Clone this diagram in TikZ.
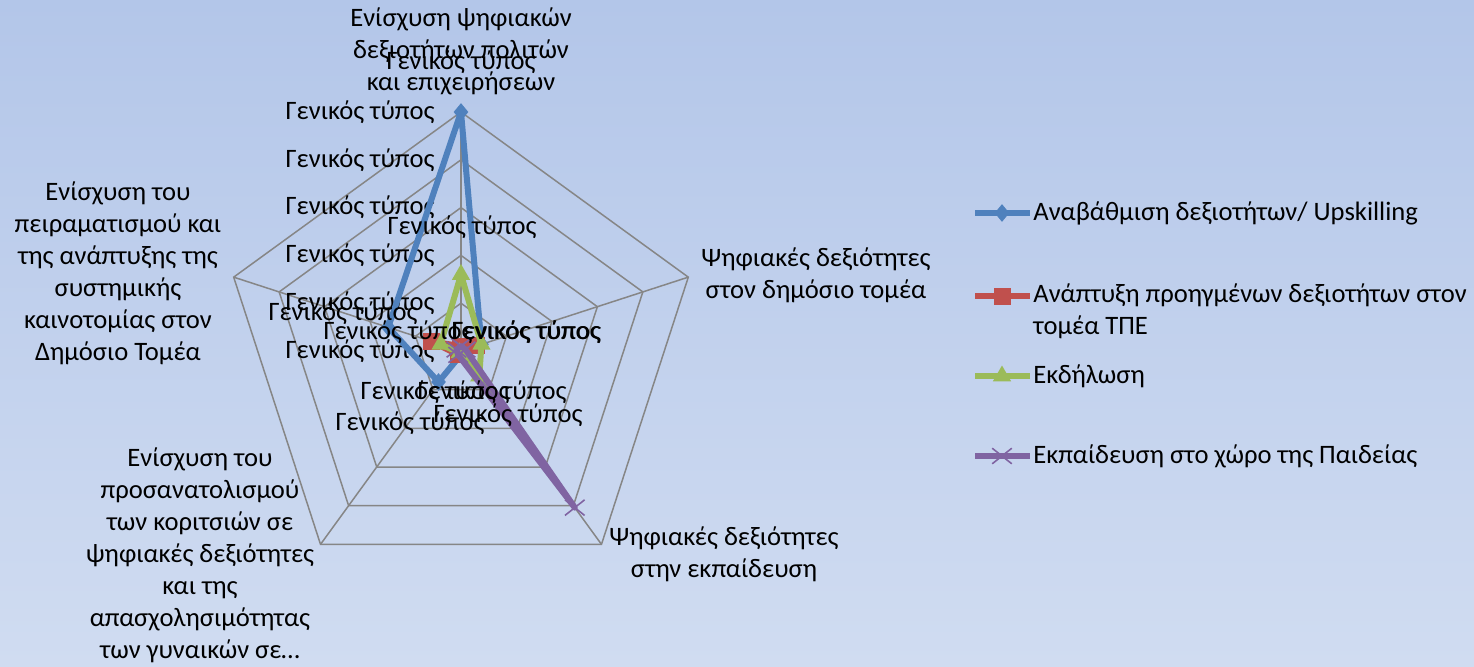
\documentclass[tikz,border=0pt]{standalone}
\usepackage{fontspec}
\setmainfont{Carlito}
\usetikzlibrary{shapes.geometric,shapes.misc}
\definecolor{bgtop}{RGB}{179,198,233}
\definecolor{bgbot}{RGB}{208,220,241}
\definecolor{gridgray}{RGB}{134,134,134}
\definecolor{serblue}{RGB}{79,129,189}
\definecolor{serred}{RGB}{192,80,77}
\definecolor{sergreen}{RGB}{155,187,89}
\definecolor{serpurple}{RGB}{128,100,162}
\tikzset{
  lbl/.style={font=\fontsize{13.3}{16}\selectfont, inner sep=0pt, align=center},
  gridline/.style={draw=gridgray, line width=0.75pt},
  ser/.style={line width=3pt, line join=round},
  mkdiam/.style={diamond, fill=serblue, inner sep=0pt, minimum width=7.5pt, minimum height=9pt},
  mksq/.style={rectangle, fill=serred, inner sep=0pt, minimum size=8.5pt},
  mktri/.style={regular polygon, regular polygon sides=3, fill=sergreen, inner sep=0pt, minimum size=10.5pt},
  mkx/.style={cross out, draw=serpurple, line width=0.8pt, inner sep=0pt, minimum width=9pt, minimum height=7pt},
}
\begin{document}
\begin{tikzpicture}[x=0.5pt,y=0.5pt]
  \useasboundingbox (-461,-315) rectangle (1013,351);
  \shade[top color=bgtop, bottom color=bgbot] (-461,-315) rectangle (1013,351);

  % web
  \coordinate (c) at (0,0);
  \foreach \k in {0,...,4} \coordinate (ax\k) at (90-72*\k:239);
  \foreach \r in {47.8,95.6,143.4,191.2,239}
    \draw[gridline] (90:\r) -- (18:\r) -- (-54:\r) -- (-126:\r) -- (-198:\r) -- cycle;
  \foreach \k in {0,...,4} \draw[gridline] (c) -- (ax\k);

  \foreach \k in {0,...,5}
    \node[lbl, anchor=east] (tick\k) at (-26,47.8*\k) {Γενικός τύπος};

  \node[lbl] (cat0) at (0,300) {Ενίσχυση ψηφιακών\\δεξιοτήτων πολιτών\\και επιχειρήσεων};
  \node[lbl] (cat1) at (355,76) {Ψηφιακές δεξιότητες\\στον δημόσιο τομέα};
  \node[lbl] (cat2) at (263,-203) {Ψηφιακές δεξιότητες\\στην εκπαίδευση};
  \node[lbl] (cat3) at (-261,-204) {Ενίσχυση του\\προσανατολισμού\\των κοριτσιών σε\\ψηφιακές δεξιότητες\\και της\\απασχολησιμότητας\\των γυναικών σε…};
  \node[lbl] (cat4) at (-343,78) {Ενίσχυση του\\πειραματισμού και\\της ανάπτυξης της\\συστημικής\\καινοτομίας στον\\Δημόσιο Τομέα};

  % series
  \foreach \v [count=\i from 0] in {5,.45,.05,.8,1.6} \coordinate (b\i) at (90-72*\i:47.8*\v);
  \foreach \v [count=\i from 0] in {.1,.35,.1,.1,.65} \coordinate (r\i) at (90-72*\i:47.8*\v);
  \foreach \v [count=\i from 0] in {1.6,.45,.65,.05,.45} \coordinate (g\i) at (90-72*\i:47.8*\v);
  \foreach \v [count=\i from 0] in {.1,.1,4.05,.1,.1} \coordinate (p\i) at (90-72*\i:47.8*\v);

  \draw[ser, serblue] (b0) -- (b1) -- (b2) -- (b3) -- (b4) -- cycle;
  \foreach \i in {0,...,4} \node[mkdiam] (bm\i) at (b\i) {};
  \draw[ser, serred] (r0) -- (r1) -- (r2) -- (r3) -- (r4) -- cycle;
  \foreach \i in {0,...,4} \node[mksq] (rm\i) at (r\i) {};
  \draw[ser, sergreen] (g0) -- (g1) -- (g2) -- (g3) -- (g4) -- cycle;
  \foreach \i in {0,...,4} \node[mktri] (gm\i) at (g\i) {};
  \draw[ser, serpurple] (p0) -- (p1) -- (p2) -- (p3) -- (p4) -- cycle;
  \foreach \i in {0,...,4} \node[mkx] (pm\i) at (p\i) {};

  % data labels
  \node[lbl] (dl0) at (0,289) {Γενικός τύπος};
  \node[lbl] (dl1) at (1,124) {Γενικός τύπος};
  \node[lbl] (dl2) at (-118,38) {Γενικός τύπος};
  \node[lbl] (dl3) at (-63,19) {Γενικός τύπος};
  \node[lbl] (dl4) at (65,19) {Γενικός τύπος};
  \node[lbl] (dl5) at (65.8,19) {Γενικός τύπος};
  \node[lbl] (dl6) at (-26,-41) {Γενικός τύπος};
  \node[lbl] (dl7) at (31,-41) {Γενικός τύπος};
  \node[lbl] (dl8) at (47,-64) {Γενικός τύπος};
  \node[lbl] (dl9) at (-51,-72) {Γενικός τύπος};

  % legend
  \coordinate (lb0) at (514,138); \coordinate (lb1) at (569,138);
  \coordinate (lr0) at (514,55);  \coordinate (lr1) at (569,55);
  \coordinate (lg0) at (514,-25); \coordinate (lg1) at (569,-25);
  \coordinate (lp0) at (514,-105); \coordinate (lp1) at (569,-105);
  \draw[ser, serblue] (lb0) -- (lb1);
  \node[mkdiam] (lbm) at (541,138) {};
  \draw[ser, serred] (lr0) -- (lr1);
  \node[mksq] (lrm) at (541,55) {};
  \draw[ser, sergreen] (lg0) -- (lg1);
  \node[mktri] (lgm) at (541,-25) {};
  \draw[ser, serpurple] (lp0) -- (lp1);
  \node[mkx] (lpm) at (541,-105) {};
  \node[lbl, anchor=west] (lbt) at (572,138) {Αναβάθμιση δεξιοτήτων/ Upskilling};
  \node[lbl, anchor=west, align=left] (lrt) at (572,40) {Ανάπτυξη προηγμένων δεξιοτήτων στον\\τομέα ΤΠΕ};
  \node[lbl, anchor=west] (lgt) at (572,-25) {Εκδήλωση};
  \node[lbl, anchor=west] (lpt) at (572,-105) {Εκπαίδευση στο χώρο της Παιδείας};
\end{tikzpicture}
\end{document}
